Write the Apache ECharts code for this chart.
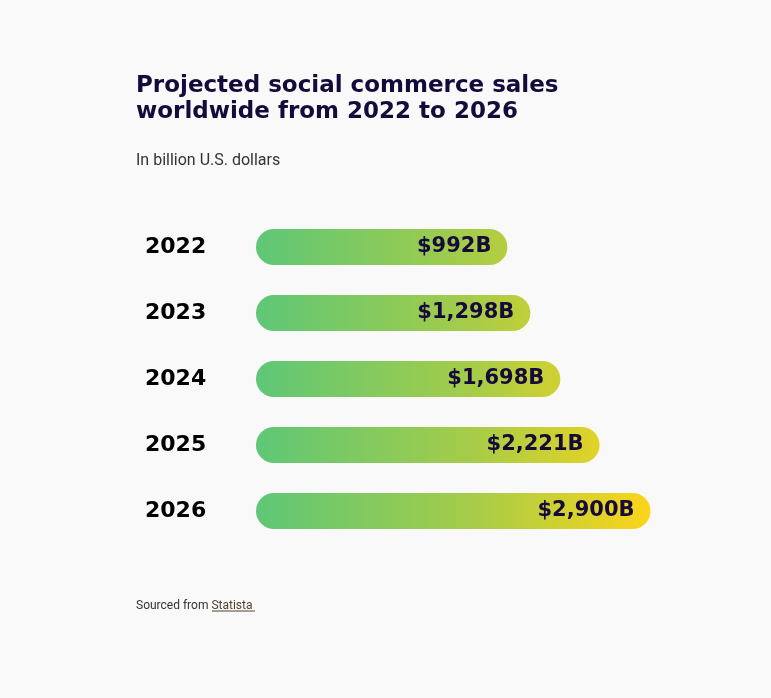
<!DOCTYPE html>
<html>
<head>
<meta charset="utf-8">
<script src="https://cdn.jsdelivr.net/npm/echarts@6/dist/echarts.min.js"></script>
<style>
  html, body { margin: 0; padding: 0; background: #f9f9f9; }
  #main { width: 771px; height: 698px; }
</style>
</head>
<body>
<div id="main"></div>
<script>
// data
var years = ['2022', '2023', '2024', '2025', '2026'];
var sales = [992, 1298, 1698, 2221, 2900];
var salesLabels = ['$992B', '$1,298B', '$1,698B', '$2,221B', '$2,900B'];

var AXIS_MIN = -2360;
var AXIS_MAX = 3000;
var navy = '#150a3a';

var chart = echarts.init(document.getElementById('main'));

var option = {
    backgroundColor: '#f9f9f9',
    title: [{
        text: 'Projected social commerce sales\nworldwide from 2022 to 2026',
        left: 131, top: 68,
        textStyle: { fontFamily: 'DejaVu Sans', fontWeight: 'bold', fontSize: 23, lineHeight: 26, color: navy }
    }, {
        text: 'In billion U.S. dollars',
        left: 131, top: 148,
        textStyle: { fontFamily: 'Roboto', fontWeight: 'normal', fontSize: 16, color: '#333' }
    }, {
        text: 'Sourced from {link|Statista}',
        left: 131, top: 595,
        textStyle: {
            fontFamily: 'Roboto', fontWeight: 'normal', fontSize: 12, color: '#333',
            rich: { link: { fontFamily: 'Roboto', fontSize: 12, color: '#554433' } }
        }
    }],
    graphic: [{
        type: 'line', shape: { x1: 212, y1: 611, x2: 255, y2: 611 },
        style: { stroke: '#554433', lineWidth: 1 }
    }],
    grid: { left: 256, right: 113, top: 214, height: 330 },
    xAxis: { type: 'value', min: AXIS_MIN, max: AXIS_MAX, show: false },
    yAxis: {
        type: 'category', data: years, inverse: true,
        axisLine: { show: false }, axisTick: { show: false },
        axisLabel: {
            margin: 36, align: 'left', padding: [0, 0, 22, -75],
            fontFamily: 'DejaVu Sans', fontWeight: 'bold', fontSize: 22, color: '#000'
        }
    },
    series: [{
        type: 'custom',
        data: sales.map(function (v, i) { return [v, i]; }),
        renderItem: function (params, api) {
            var i = api.value(1);
            var start = api.coord([AXIS_MIN, i]);
            var end = api.coord([api.value(0), i]);
            var gEnd = api.coord([sales[sales.length - 1], i]);
            var h = 36;
            return {
                type: 'group',
                children: [{
                    type: 'rect',
                    shape: { x: start[0], y: start[1] - h / 2, width: end[0] - start[0], height: h, r: h / 2 },
                    style: {
                        fill: new echarts.graphic.LinearGradient(start[0], 0, gEnd[0], 0, [
                            { offset: 0, color: '#5ec777' },
                            { offset: 0.55, color: '#a6cc48' },
                            { offset: 1, color: '#fbd51a' }
                        ], true)
                    }
                }, {
                    type: 'text',
                    style: {
                        text: salesLabels[params.dataIndex],
                        x: end[0] - 16, y: end[1],
                        align: 'right', verticalAlign: 'middle',
                        font: 'bold 21px "DejaVu Sans"', fill: navy
                    }
                }]
            };
        }
    }]
};

chart.setOption(option);
</script>
</body>
</html>
